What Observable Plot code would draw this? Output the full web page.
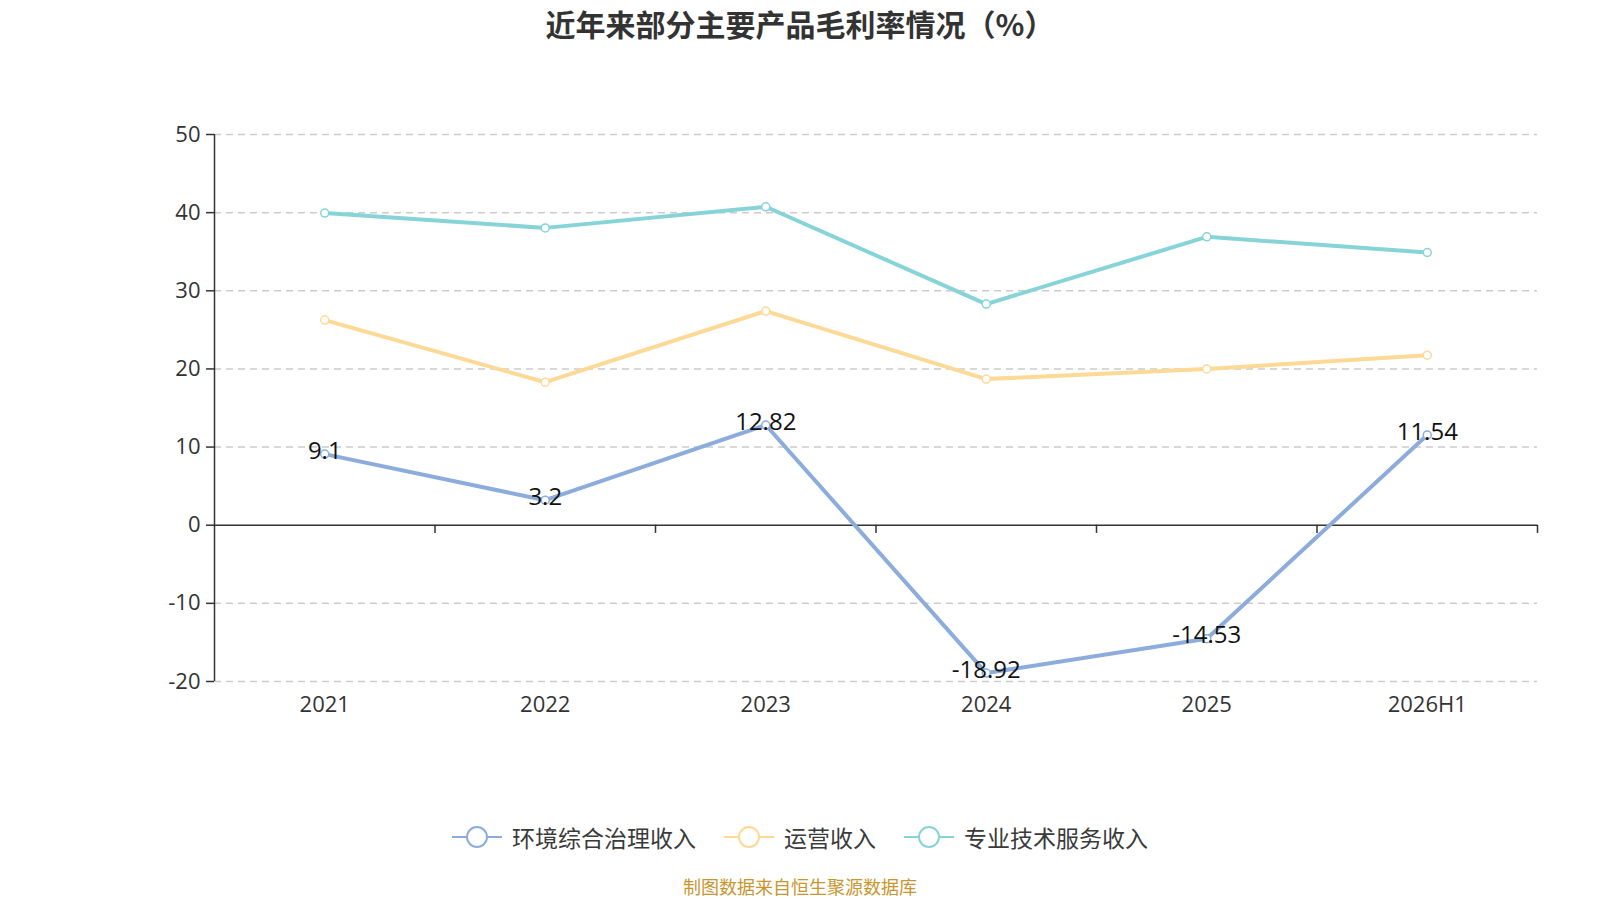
<!DOCTYPE html>
<html><head><meta charset="utf-8">
<script src="https://cdn.jsdelivr.net/npm/d3@7"></script>
<script src="https://cdn.jsdelivr.net/npm/@observablehq/plot@0.6"></script>
<style>
body{margin:0;background:#fff;font-family:"Noto Sans CJK SC","Noto Sans",sans-serif;}
#wrap{position:relative;width:1600px;height:900px;overflow:hidden;background:#fff;}
#title{position:absolute;top:0;left:0;width:1600px;height:46px;line-height:46px;text-align:center;font-size:30px;font-weight:bold;color:#333;}
#chart{position:absolute;top:50px;left:0;}
#legend{position:absolute;top:820px;left:0;width:1600px;height:34px;display:flex;justify-content:center;align-items:center;gap:28px;font-size:23px;color:#3a3a3a;}
.item{display:flex;align-items:center;gap:10px;}
#caption{position:absolute;top:876px;left:0;width:1600px;text-align:center;font-size:18px;color:#c8962e;line-height:20px;}
</style></head>
<body>
<div id="wrap">
  <div id="title">近年来部分主要产品毛利率情况（%）</div>
  <div id="chart"></div>
  <div id="legend"></div>
  <div id="caption">制图数据来自恒生聚源数据库</div>
</div>
<script>
const categories = ["2021", "2022", "2023", "2024", "2025", "2026H1"];
const seriesNames = ["环境综合治理收入", "运营收入", "专业技术服务收入"];
const envValues = [9.1, 3.2, 12.82, -18.92, -14.53, 11.54];
const opValues = [26.25, 18.3, 27.4, 18.7, 20.0, 21.75];
const techValues = [39.95, 38.05, 40.75, 28.3, 36.9, 34.9];
const seriesColors = ["#8cacdc", "#fdd996", "#86d4d8"];
const yTicks = [-20, -10, 0, 10, 20, 30, 40, 50];

const allValues = [envValues, opValues, techValues];
const rows = [];
seriesNames.forEach((s, si) => {
  categories.forEach((c, i) => rows.push({series: s, idx: i, cat: c, value: allValues[si][i]}));
});
const envRows = rows.filter(d => d.series === seriesNames[0]);
const idxs = d3.range(categories.length);
const boundaries = idxs.map(i => i + 0.5);
const numFont = '"Open Sans","Noto Sans CJK SC",sans-serif';

const chart = Plot.plot({
  width: 1600, height: 700,
  marginTop: 84, marginBottom: 69, marginLeft: 214, marginRight: 63,
  style: {fontFamily: numFont, fontSize: "22px", color: "#333", background: "transparent"},
  x: {type: "linear", domain: [-0.5, categories.length - 0.5], label: null},
  y: {domain: [-20, 50], label: null},
  color: {domain: seriesNames, range: seriesColors},
  marks: [
    Plot.ruleY(yTicks.filter(d => d !== 0), {stroke: "#ccc", strokeWidth: 1.5, strokeDasharray: "7,5"}),
    Plot.axisY({ticks: yTicks, tickFormat: d => String(d), label: null, tickSize: 8, tickPadding: 6, stroke: "#333", strokeWidth: 1.5, strokeOpacity: 1, fill: "#333", fontSize: 22}),
    Plot.axisX({ticks: idxs, tickFormat: i => categories[i], label: null, tickSize: 0, tickPadding: 15, fill: "#333", fontSize: 22}),
    Plot.ruleX([-0.5], {y1: -20, y2: 50, stroke: "#333", strokeWidth: 1.5}),
    Plot.ruleY([0], {stroke: "#333", strokeWidth: 1.5}),
    Plot.ruleX(boundaries, {y1: 0, y2: -1.05, stroke: "#333", strokeWidth: 1.5}),
    Plot.line(rows, {x: "idx", y: "value", z: "series", stroke: "series", strokeWidth: 4}),
    Plot.dot(rows, {x: "idx", y: "value", stroke: "series", fill: "white", r: 4, strokeWidth: 1.5}),
    Plot.text(envRows, {x: "idx", y: "value", text: d => String(d.value), dy: -3, fill: "#111", fontSize: 24})
  ]
});
document.getElementById("chart").appendChild(chart);

const legend = document.getElementById("legend");
seriesNames.forEach((s, i) => {
  const item = document.createElement("div");
  item.className = "item";
  item.innerHTML = `<svg width="50" height="24"><line x1="0" y1="12" x2="50" y2="12" stroke="${seriesColors[i]}" stroke-width="2"/><circle cx="25" cy="12" r="10" fill="white" stroke="${seriesColors[i]}" stroke-width="2"/></svg><span>${s}</span>`;
  legend.appendChild(item);
});
</script>
</body></html>
